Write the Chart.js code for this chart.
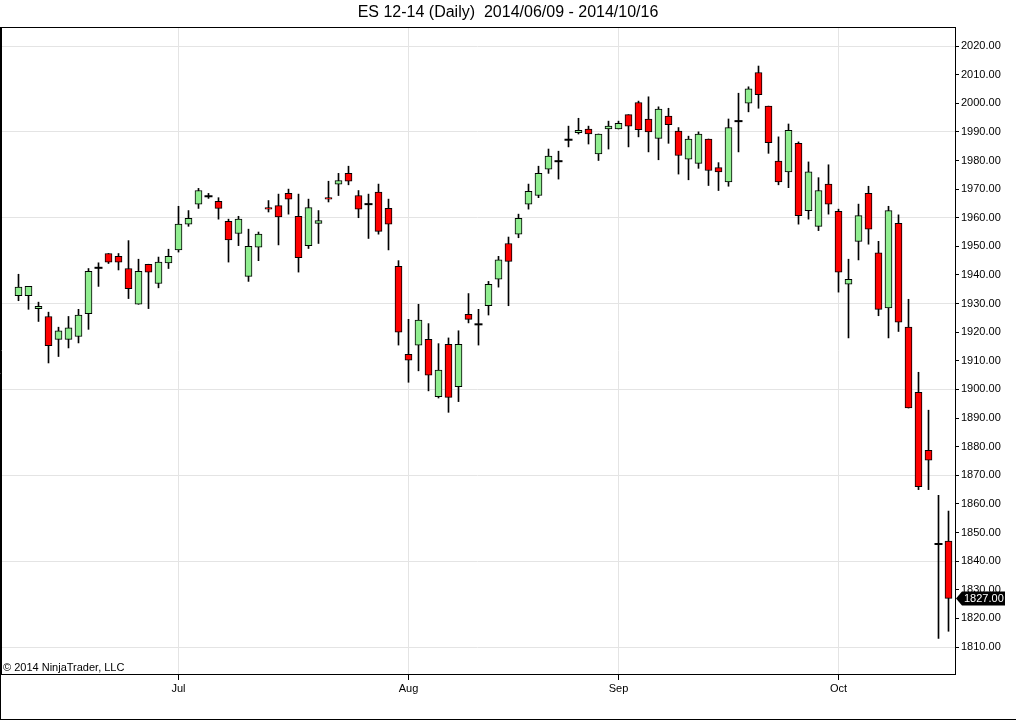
<!DOCTYPE html>
<html>
<head>
<meta charset="utf-8">
<title>ES 12-14 (Daily)</title>
<script src="https://cdn.jsdelivr.net/npm/chart.js@4.4.1/dist/chart.umd.min.js"></script>
<style>
  html, body { margin: 0; padding: 0; background: #ffffff; }
  #wrap { width: 1016px; height: 720px; position: relative; }
  canvas { display: block; }
</style>
</head>
<body>
<div id="wrap"><canvas id="chart" width="1016" height="720"></canvas></div>
<script>
// ---------- DATA ----------
const dates = [
  '2014-06-09','2014-06-10','2014-06-11','2014-06-12','2014-06-13','2014-06-16','2014-06-17','2014-06-18',
  '2014-06-19','2014-06-20','2014-06-23','2014-06-24','2014-06-25','2014-06-26','2014-06-27','2014-06-30',
  '2014-07-01','2014-07-02','2014-07-03','2014-07-04','2014-07-07','2014-07-08','2014-07-09','2014-07-10',
  '2014-07-11','2014-07-14','2014-07-15','2014-07-16','2014-07-17','2014-07-18','2014-07-21','2014-07-22',
  '2014-07-23','2014-07-24','2014-07-25','2014-07-28','2014-07-29','2014-07-30','2014-07-31',
  '2014-08-01','2014-08-04','2014-08-05','2014-08-06','2014-08-07','2014-08-08','2014-08-11','2014-08-12',
  '2014-08-13','2014-08-14','2014-08-15','2014-08-18','2014-08-19','2014-08-20','2014-08-21','2014-08-22',
  '2014-08-25','2014-08-26','2014-08-27','2014-08-28','2014-08-29',
  '2014-09-01','2014-09-02','2014-09-03','2014-09-04','2014-09-05','2014-09-08','2014-09-09','2014-09-10',
  '2014-09-11','2014-09-12','2014-09-15','2014-09-16','2014-09-17','2014-09-18','2014-09-19','2014-09-22',
  '2014-09-23','2014-09-24','2014-09-25','2014-09-26','2014-09-29','2014-09-30',
  '2014-10-01','2014-10-02','2014-10-03','2014-10-06','2014-10-07','2014-10-08','2014-10-09','2014-10-10',
  '2014-10-13','2014-10-14','2014-10-15','2014-10-16'
];

const opens = [
  1932.75,1932.75,1928.25,1925.50,1917.50,1917.50,1918.50,1926.50,1942.50,1947.50,1946.50,1942.25,1929.75,1943.75,1937.00,1944.25,
  1948.75,1957.75,1964.75,1967.50,1965.75,1958.75,1954.50,1939.50,1949.75,1963.50,1964.25,1968.50,1960.50,1950.25,1958.00,1967.00,
  1971.75,1975.50,1967.75,1964.75,1969.00,1963.25,1943.00,
  1912.25,1915.50,1917.50,1897.50,1915.75,1901.00,1926.25,1922.75,1929.25,1938.50,1951.00,1954.25,1964.75,1967.75,1977.00,1979.75,
  1987.25,1989.75,1991.00,1982.25,1991.00,
  1991.00,1996.00,2000.25,1994.50,1987.75,1995.50,1990.25,1980.50,1979.00,1987.50,1977.50,1972.50,1993.75,2000.00,2010.75,1999.00,
  1979.75,1976.00,1986.00,1962.50,1957.00,1971.75,
  1962.25,1936.75,1951.75,1968.50,1947.75,1928.50,1958.00,1921.75,1899.00,1878.75,1846.00,1847.00
];
const highs = [
  1940.25,1936.00,1930.50,1927.00,1921.75,1925.50,1928.00,1942.25,1944.25,1947.50,1947.50,1952.00,1945.50,1943.75,1946.25,1949.00,
  1964.00,1962.50,1970.25,1968.50,1967.00,1959.50,1960.50,1956.00,1955.00,1966.00,1968.25,1970.00,1968.25,1966.50,1962.50,1972.75,
  1975.50,1978.00,1969.50,1968.25,1971.75,1966.50,1945.00,
  1924.50,1929.75,1923.00,1916.00,1918.00,1920.50,1933.50,1928.00,1937.75,1946.50,1953.25,1961.25,1971.75,1978.00,1984.00,1983.25,
  1992.00,1994.75,1992.00,1989.25,1993.75,
  1993.75,1996.00,2000.75,2002.25,1998.75,1998.25,1991.50,1988.50,1990.00,1987.50,1979.25,1994.50,2003.50,2005.75,2013.00,1999.00,
  1988.25,1992.75,1986.50,1979.50,1974.00,1978.50,
  1963.00,1945.50,1964.75,1971.00,1951.75,1964.00,1961.00,1931.50,1906.00,1892.75,1863.00,1857.50
];
const lows = [
  1931.00,1928.00,1923.75,1909.25,1911.50,1914.50,1916.25,1921.00,1936.00,1944.00,1941.75,1931.75,1929.75,1928.25,1935.50,1942.25,
  1948.00,1957.00,1963.25,1966.75,1959.50,1944.50,1950.25,1937.75,1945.00,1962.00,1950.50,1961.25,1941.00,1949.25,1951.00,1965.50,
  1967.75,1971.50,1960.00,1952.75,1954.25,1948.75,1915.50,
  1902.50,1906.50,1899.50,1897.00,1892.00,1895.75,1923.25,1915.50,1926.00,1935.75,1929.25,1953.00,1963.00,1967.00,1975.50,1973.50,
  1984.75,1989.25,1985.75,1980.00,1984.00,
  1991.00,1984.75,1988.25,1983.00,1980.25,1986.00,1975.25,1973.25,1977.25,1971.25,1969.50,1971.00,1983.00,1997.00,1998.25,1982.50,
  1971.50,1970.50,1957.75,1959.50,1955.50,1961.25,
  1934.00,1918.00,1945.25,1950.75,1925.75,1918.00,1920.25,1893.50,1865.00,1865.00,1813.00,1815.50
];
const closes = [
  1935.75,1936.00,1929.00,1915.25,1920.50,1921.50,1926.00,1941.25,1942.50,1944.50,1944.50,1935.25,1941.25,1941.00,1944.50,1946.50,
  1957.75,1959.75,1969.50,1967.50,1963.25,1952.25,1959.50,1950.00,1954.25,1963.00,1960.25,1966.50,1946.00,1963.50,1959.00,1966.50,
  1973.00,1972.75,1963.00,1964.75,1955.25,1957.75,1920.00,
  1910.25,1924.25,1905.00,1906.75,1897.25,1915.75,1924.50,1922.75,1936.75,1945.25,1944.75,1959.75,1969.25,1975.50,1981.50,1979.75,
  1987.25,1990.50,1989.25,1989.25,1992.00,
  1993.00,1992.00,1990.75,1990.00,1998.00,1992.50,1981.75,1987.50,1989.25,1976.50,1976.00,1991.50,1993.75,2005.00,2003.00,1986.25,
  1972.50,1990.50,1960.75,1976.00,1969.50,1964.75,
  1941.00,1938.50,1960.75,1956.00,1928.00,1962.50,1923.50,1893.50,1866.00,1875.25,1846.00,1827.00
];

const monthLabels = ['Jul', 'Aug', 'Sep', 'Oct'];
const monthKeys   = ['2014-07', '2014-08', '2014-09', '2014-10'];
const priceTicks  = [1810,1820,1830,1840,1850,1860,1870,1880,1890,1900,1910,1920,1930,1940,1950,
                     1960,1970,1980,1990,2000,2010,2020];

const titleText = 'ES 12-14 (Daily)  2014/06/09 - 2014/10/16';
const copyrightText = '\u00A9 2014 NinjaTrader, LLC';

// ---------- BUILD ----------
const UP = '#90ee90', DOWN = '#ff0000';
const monthIdx = monthKeys.map(k => dates.findIndex(d => d.startsWith(k)));

const bodyData = opens.map((o, i) => ({ x: i, y: [o, closes[i]] })).filter(p => p.y[0] !== p.y[1]);
const wickData = lows.map((l, i) => ({ x: i, y: [l, highs[i]] }));
const dojiData = opens.map((o, i) => ({ x: i, y: o })).filter(p => opens[p.x] === closes[p.x]);

Chart.defaults.font.family = '"Liberation Sans", Arial, sans-serif';
Chart.defaults.font.size = 11;
Chart.defaults.color = '#000';

const framePlugin = {
  id: 'frame',
  afterDraw(chart) {
    const { ctx, chartArea: a, scales } = chart;
    ctx.save();
    ctx.strokeStyle = '#000';
    ctx.lineWidth = 1;
    ctx.beginPath();
    ctx.moveTo(0, a.top + 0.5); ctx.lineTo(a.right + 1, a.top + 0.5);
    ctx.moveTo(0.5, a.top); ctx.lineTo(0.5, 720);
    ctx.moveTo(1.5, a.top); ctx.lineTo(1.5, a.bottom);
    ctx.moveTo(0, 719.5); ctx.lineTo(1016, 719.5);
    ctx.stroke();

    // copyright
    ctx.fillStyle = '#000';
    ctx.font = '11px "Liberation Sans", Arial, sans-serif';
    ctx.textAlign = 'left';
    ctx.textBaseline = 'alphabetic';
    ctx.fillText(copyrightText, 3, a.bottom - 3);

    // last price marker
    const last = closes[closes.length - 1];
    const y = Math.round(scales.y.getPixelForValue(last)) + 0.5;
    const x0 = a.right + 1;
    ctx.fillStyle = '#000';
    ctx.beginPath();
    ctx.moveTo(x0, y);
    ctx.lineTo(x0 + 6, y - 7);
    ctx.lineTo(1005, y - 7);
    ctx.lineTo(1005, y + 7);
    ctx.lineTo(x0 + 6, y + 7);
    ctx.closePath();
    ctx.fill();
    ctx.fillStyle = '#fff';
    ctx.textBaseline = 'middle';
    ctx.fillText(last.toFixed(2), x0 + 8, y + 0.5);
    ctx.restore();
  }
};

new Chart(document.getElementById('chart'), {
  type: 'bar',
  data: {
    datasets: [
      {
        label: 'Body',
        data: bodyData,
        order: 1,
        grouped: false,
        barThickness: 7,
        backgroundColor: ctx => {
          const r = ctx.raw;
          if (!r) return UP;
          return r.y[1] >= r.y[0] ? UP : DOWN;
        },
        borderColor: '#000',
        borderWidth: 1,
        borderSkipped: false
      },
      {
        label: 'Wick',
        data: wickData,
        order: 2,
        grouped: false,
        barThickness: 1,
        backgroundColor: '#000',
        borderWidth: 0
      },
      {
        type: 'line',
        label: 'Doji',
        data: dojiData,
        order: 0,
        showLine: false,
        pointStyle: 'line',
        pointRadius: 4,
        pointBorderWidth: 2,
        pointBorderColor: '#000',
        pointBackgroundColor: '#000',
        pointHoverRadius: 4
      }
    ]
  },
  options: {
    responsive: false,
    animation: false,
    events: [],
    layout: { padding: 0, autoPadding: false },
    plugins: {
      legend: { display: false },
      tooltip: { enabled: false },
      title: {
        display: true,
        text: titleText,
        color: '#000',
        font: { size: 16, weight: 'normal' },
        padding: { top: 3, bottom: 4.8 }
      }
    },
    scales: {
      x: {
        type: 'linear',
        position: 'bottom',
        offset: false,
        min: -1.85,
        max: 93.65,
        afterFit: s => { s.height = 46; },
        afterBuildTicks: s => { s.ticks = monthIdx.map(v => ({ value: v })); },
        ticks: {
          autoSkip: false,
          maxRotation: 0,
          padding: 2,
          color: '#000',
          font: { size: 11 },
          callback: (v, i) => monthLabels[i]
        },
        grid: {
          offset: false,
          color: '#e4e4e4',
          tickColor: '#000',
          tickLength: 6,
          drawTicks: true
        },
        border: { display: true, color: '#000', width: 1 }
      },
      y: {
        type: 'linear',
        position: 'right',
        min: 1800.57,
        max: 2026.64,
        afterFit: s => { s.width = 61; },
        afterBuildTicks: s => { s.ticks = priceTicks.map(v => ({ value: v })); },
        ticks: {
          padding: 2,
          color: '#000',
          font: { size: 11 },
          callback: v => Number(v).toFixed(2)
        },
        grid: {
          color: ctx => (ctx.tick && (ctx.tick.value - 1810) % 30 === 0) ? '#e4e4e4' : 'rgba(0,0,0,0)',
          tickColor: '#000',
          tickLength: 4,
          drawTicks: true
        },
        border: { display: true, color: '#000', width: 1 }
      }
    }
  },
  plugins: [framePlugin]
});
</script>
</body>
</html>
